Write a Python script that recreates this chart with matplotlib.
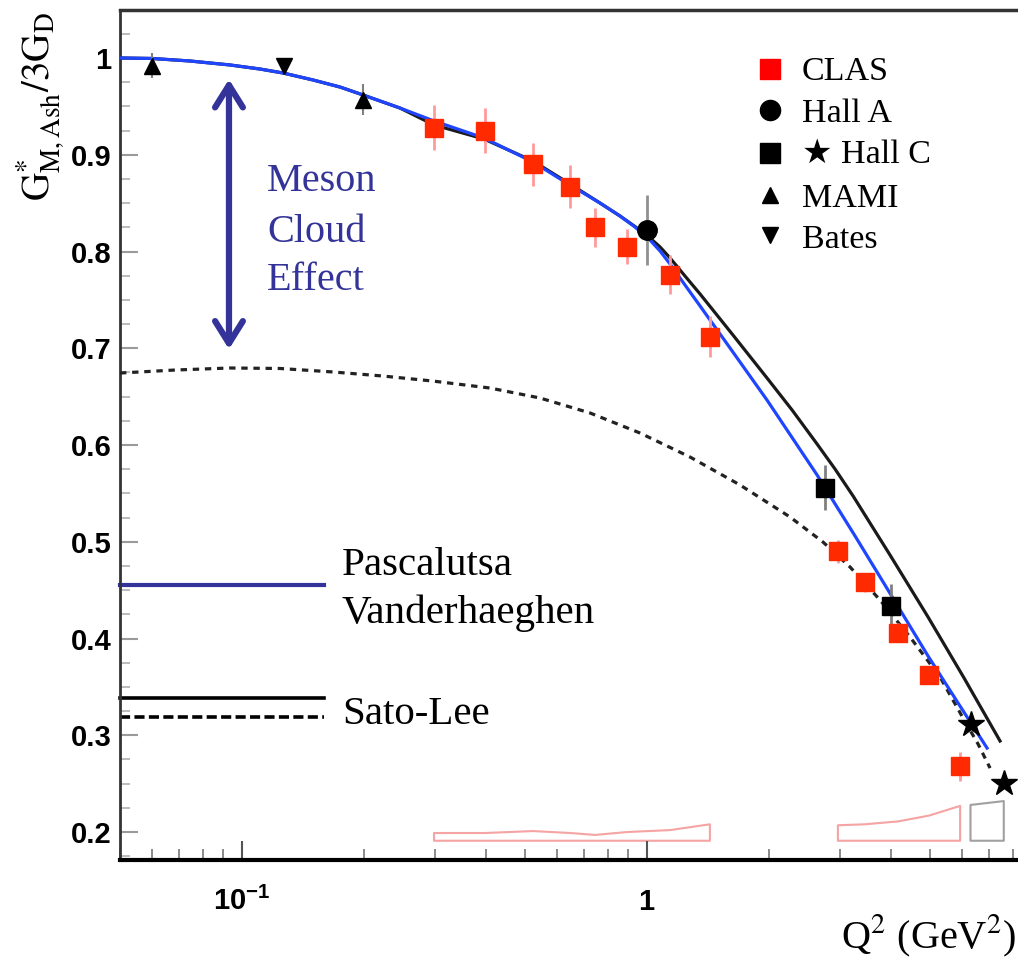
import matplotlib
matplotlib.use('Agg')
import matplotlib.pyplot as plt
from matplotlib.ticker import FixedLocator, FixedFormatter, LogLocator, MultipleLocator, NullFormatter

plt.rcParams['font.family'] = ['Liberation Sans', 'DejaVu Sans']
plt.rcParams['mathtext.fontset'] = 'custom'
plt.rcParams['mathtext.rm'] = 'Liberation Sans:bold'
plt.rcParams['mathtext.bf'] = 'Liberation Sans:bold'
plt.rcParams['mathtext.it'] = 'Liberation Sans:bold'

# --- data ---
# Pascalutsa-Vanderhaeghen (blue)
pv_q2 = [0.05, 0.0600, 0.0744, 0.0934, 0.1108, 0.1263, 0.1497, 0.1746, 0.1990, 0.2455,
         0.2980, 0.3958, 0.5231, 0.6453, 0.7655, 0.8577, 0.9341, 1.017, 1.077, 1.140,
         1.241, 1.352, 1.472, 1.603, 1.978, 2.630, 3.264, 4.004, 4.942, 5.862, 6.911]
pv_g = [1.000, 0.9995, 0.9969, 0.9928, 0.9886, 0.9845, 0.9773, 0.9700, 0.9618, 0.9483,
        0.9349, 0.9173, 0.8925, 0.8687, 0.8501, 0.8367, 0.8253, 0.8119, 0.8005, 0.7871,
        0.7654, 0.7437, 0.7220, 0.7003, 0.6465, 0.5690, 0.5059, 0.4450, 0.3819, 0.3333, 0.2868]
# Sato-Lee full (black solid)
sl_q2 = [0.05, 0.0600, 0.0744, 0.0934, 0.1108, 0.1263, 0.1497, 0.1746, 0.1990, 0.2455,
         0.2980, 0.3958, 0.5231, 0.6453, 0.7655, 0.8577, 0.9341, 1.017, 1.077, 1.140,
         1.241, 1.352, 1.630, 1.978, 2.281, 2.630, 2.912, 3.227, 3.981, 4.942, 6.064, 7.44]
sl_g = [1.000, 0.9995, 0.9969, 0.9928, 0.9886, 0.9845, 0.9773, 0.9700, 0.9618, 0.9483,
        0.9308, 0.9163, 0.8935, 0.8698, 0.8501, 0.8367, 0.8258, 0.8140, 0.8047, 0.7933,
        0.7747, 0.7561, 0.7137, 0.6693, 0.6362, 0.6010, 0.5752, 0.5473, 0.4863, 0.4222,
        0.3592, 0.2941]
# Sato-Lee bare (black dashed)
bare_q2 = [0.05, 0.0683, 0.0934, 0.1242, 0.1678, 0.2229, 0.2962, 0.4096, 0.5441, 0.7236,
           0.9610, 1.277, 1.697, 2.255, 2.720, 3.172, 3.761, 4.461, 5.290, 6.029, 6.566, 7.03]
bare_g = [0.6744, 0.6775, 0.6796, 0.6791, 0.6755, 0.6713, 0.6661, 0.6589, 0.6486, 0.6331,
          0.6124, 0.5876, 0.5587, 0.5256, 0.4997, 0.4739, 0.4398, 0.4015, 0.3602, 0.3178,
          0.2910, 0.2661]

clas_q2 = [0.298, 0.398, 0.523, 0.646, 0.744, 0.893, 1.14, 1.43, 2.96, 3.45, 4.17, 4.97, 5.93]
clas_g = [0.928, 0.925, 0.890, 0.867, 0.825, 0.805, 0.776, 0.712, 0.490, 0.458, 0.406, 0.362, 0.268]
clas_err = [0.023, 0.023, 0.022, 0.022, 0.020, 0.018, 0.020, 0.021, 0.012, 0.010, 0.010, 0.008, 0.015]

halla_q2 = [1.0]
halla_g = [0.822]
halla_err = [0.036]

hallc_sq_q2 = [2.75, 4.00]
hallc_sq_g = [0.556, 0.434]
hallc_sq_err = [0.023, 0.022]
hallc_st_q2 = [6.31, 7.61]
hallc_st_g = [0.312, 0.251]

mami_q2 = [0.060, 0.199]
mami_g = [0.992, 0.957]
mami_err = [0.013, 0.016]

bates_q2 = [0.127]
bates_g = [0.992]

# systematic error bands
sys_base = 0.191
sys1_q2 = clas_q2[:8]
sys1_top = [0.199, 0.199, 0.201, 0.199, 0.197, 0.200, 0.202, 0.208]
sys2_q2 = clas_q2[8:]
sys2_top = [0.207, 0.208, 0.211, 0.217, 0.227]
sys3_q2 = [6.29, 7.60]
sys3_top = [0.228, 0.232]

yticks = [0.2, 0.3, 0.4, 0.5, 0.6, 0.7, 0.8, 0.9, 1.0]
ytick_labels = ['0.2', '0.3', '0.4', '0.5', '0.6', '0.7', '0.8', '0.9', '1']
xticks = [0.1, 1.0]
xtick_labels = [r'$\mathbf{10^{-1}}$', r'$\mathbf{1}$']

legend_labels = ['CLAS', 'Hall A', '\u2605 Hall C', 'MAMI', 'Bates']
legend_markers = ['s', 'o', 's', '^', 'v']
legend_colors = ['#ff0000', 'k', 'k', 'k', 'k']

W, H = 1018, 958
fig = plt.figure(figsize=(W / 100, H / 100), dpi=100)
ax = fig.add_axes([120 / W, 98 / H, 898 / W, 850 / H])
ax.set_xscale('log')
ax.set_xlim(0.05, 8.24)
ax.set_ylim(0.1711, 1.0496)

serif = ['Liberation Serif', 'DejaVu Serif']
navy = '#333399'

# bands
for q, top, col in [(sys1_q2, sys1_top, '#f5a3a3'), (sys2_q2, sys2_top, '#f5a3a3'),
                    (sys3_q2, sys3_top, '#a0a0a0')]:
    ax.fill_between(q, [sys_base] * len(q), top, facecolor='none', edgecolor=col, lw=1.5)

# curves
ax.plot(bare_q2, bare_g, color='#222222', lw=2.3, ls=(0, (2.0, 1.8)), zorder=3)
ax.plot(sl_q2, sl_g, color='#1a1a1a', lw=2.3, zorder=3)
ax.plot(pv_q2, pv_g, color='#1f45ff', lw=2.3, zorder=4)

# data
ax.errorbar(clas_q2, clas_g, yerr=clas_err, fmt='s', ms=13.5, mfc='#ff2a00', mec='#ff2a00',
            ecolor='#ff9a9a', elinewidth=2, capsize=0, zorder=5)
ax.errorbar(halla_q2, halla_g, yerr=halla_err, fmt='o', ms=14, mfc='k', mec='k',
            ecolor='#909090', elinewidth=2, capsize=0, zorder=5)
ax.errorbar(hallc_sq_q2, hallc_sq_g, yerr=hallc_sq_err, fmt='s', ms=13, mfc='k', mec='k',
            ecolor='#808080', elinewidth=2, capsize=0, zorder=5)
ax.plot(hallc_st_q2, hallc_st_g, '*', ms=19, color='k', zorder=5)
ax.errorbar(mami_q2, mami_g, yerr=mami_err, fmt='^', ms=12, mfc='k', mec='k',
            ecolor='#808080', elinewidth=1.5, capsize=0, zorder=5)
ax.plot(bates_q2, bates_g, 'v', ms=12, color='k', zorder=5)

# meson cloud arrow
ax.annotate('', xy=(0.0929, 0.978), xytext=(0.0929, 0.699),
            arrowprops=dict(arrowstyle='<->,head_length=0.8,head_width=0.5', color=navy,
                            lw=4.5, shrinkA=0, shrinkB=0, mutation_scale=20))
for txt, py in [('Meson', 191), ('Cloud', 242), ('Effect', 290)]:
    fig.text(267 / W, 1 - py / H, txt, family=serif, fontsize=29, color=navy, va='baseline')

# curve labels
ax.plot([0.05, 0.1594], [0.4553, 0.4553], color=navy, lw=3, clip_on=False)
ax.plot([0.05, 0.1594], [0.3385, 0.3385], color='k', lw=2.6, clip_on=False)
ax.plot([0.05, 0.1594], [0.3189, 0.3189], color='k', lw=2.6, ls=(0, (2.8, 1.2)), clip_on=False)
fig.text(342 / W, 1 - 575 / H, 'Pascalutsa', family=serif, fontsize=29.5, va='baseline')
fig.text(342 / W, 1 - 623 / H, 'Vanderhaeghen', family=serif, fontsize=29.5, va='baseline')
fig.text(342 / W, 1 - 724 / H, 'Sato-Lee', family=serif, fontsize=29.5, va='baseline')

# legend (drawn by hand like the original)
leg_marker_y = [69, 110, 153, 195, 235]
leg_text_y = [80, 122, 163, 207, 248]
leg_ms = [14.5, 14.5, 14.5, 12, 11]
for lab, m, c, my, ty, ms in zip(legend_labels, legend_markers, legend_colors,
                                  leg_marker_y, leg_text_y, leg_ms):
    ax.plot([770 / W], [1 - my / H], marker=m, ms=ms, color=c, ls='none',
            transform=fig.transFigure, clip_on=False)
    fig.text(802 / W, 1 - ty / H, lab, family=['Liberation Serif', 'DejaVu Sans'],
             fontsize=24.5, va='baseline')

# axes styling
ax.yaxis.set_major_locator(FixedLocator(yticks))
ax.yaxis.set_major_formatter(FixedFormatter(ytick_labels))
ax.yaxis.set_minor_locator(MultipleLocator(0.025))
ax.xaxis.set_major_locator(FixedLocator(xticks))
ax.xaxis.set_major_formatter(FixedFormatter(xtick_labels))
ax.xaxis.set_minor_locator(LogLocator(base=10, subs=[2, 3, 4, 5, 6, 7, 8, 9], numticks=20))
ax.xaxis.set_minor_formatter(NullFormatter())

ax.tick_params(axis='y', which='major', direction='in', length=13, width=1.5,
               color='#9a9a9a', pad=6, labelsize=21)
ax.tick_params(axis='y', which='minor', direction='in', length=7, width=1.2, color='#b0b0b0')
ax.tick_params(axis='x', which='major', direction='in', length=14, width=1.5,
               color='#555555', pad=36, labelsize=21)
ax.tick_params(axis='x', which='minor', direction='in', length=8, width=1.2, color='#777777')
for lbl in ax.get_yticklabels():
    lbl.set_fontweight('bold')
for t in ax.xaxis.get_major_ticks():
    t.label1.set_va('baseline')

ax.spines['right'].set_visible(False)
ax.spines['top'].set_linewidth(2.5)
ax.spines['top'].set_color('#333333')
ax.spines['left'].set_linewidth(2)
ax.spines['left'].set_color('#333333')
ax.spines['bottom'].set_linewidth(3)
ax.spines['bottom'].set_color('k')

fig.text(40 / W, 1 - 12 / H, r'$\mathrm{G^{*}_{M,Ash}/3G_{D}}$', rotation=90, ha='center',
         va='top', fontsize=28, family=serif, math_fontfamily='stix')
fig.text(1016 / W, 1 - 948 / H, r'Q$^{2}$ (GeV$^{2}$)', ha='right', va='baseline',
         fontsize=29, family=serif, math_fontfamily='stix')

fig.savefig('out.png', dpi=100)
